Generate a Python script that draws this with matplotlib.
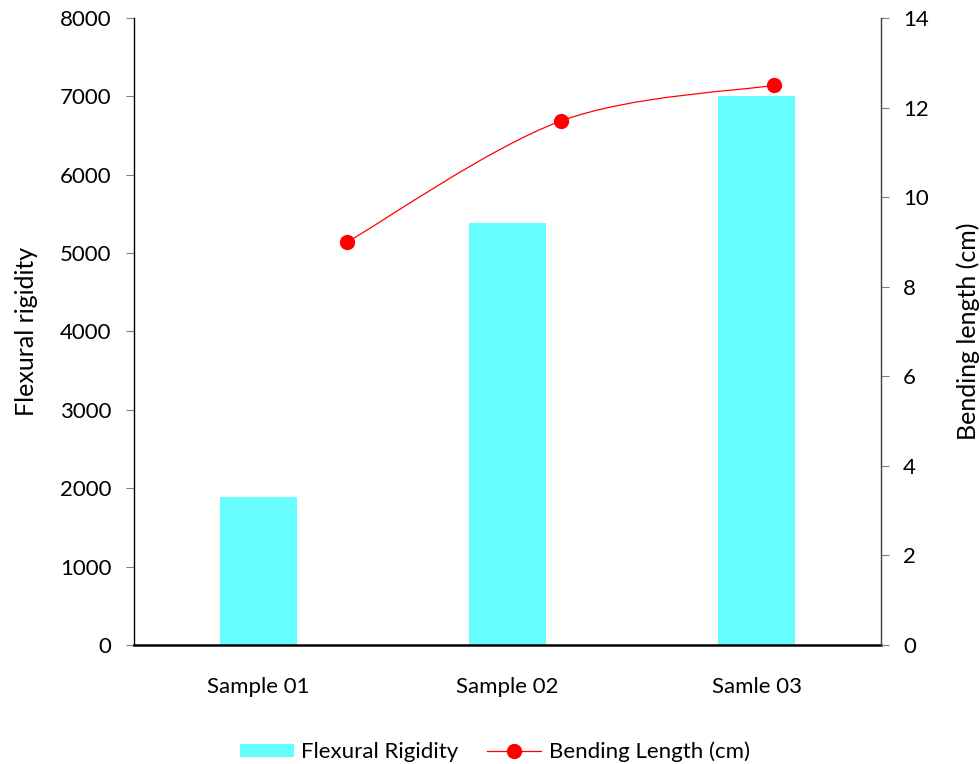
import matplotlib.pyplot as plt
from matplotlib.path import Path
from matplotlib.patches import PathPatch
from matplotlib.lines import Line2D
from matplotlib.patches import Patch

plt.rcParams['font.family'] = ['Lato', 'DejaVu Sans']

samples = ["Sample 01", "Sample 02", "Samle 03"]
rigidity = [1890, 5380, 7000]
bend_x = [1, 2, 3]
bend_len = [9.0, 11.7, 12.5]

bar_color = "#66FFFF"
line_color = "#FF0000"
fs = 16
lfs = 18

fig = plt.figure(figsize=(9.8, 7.64), dpi=100)
pos = [0.1367, 0.1558, 0.899 - 0.1367, 0.9764 - 0.1558]
ax = fig.add_axes(pos)

x = range(len(samples))
ax.bar(x, rigidity, width=0.313, color=bar_color, zorder=2)
ax.set_xlim(-0.5, len(samples) - 0.5)
ax.set_ylim(0, 8000)
ax.set_yticks(range(0, 8001, 1000))
ax.set_xticks(list(x))
ax.set_xticklabels(samples, fontsize=fs)
ax.tick_params(axis="x", length=0, pad=23)
ax.tick_params(axis="y", labelsize=fs, length=6, color="#808080", pad=10)
ax.set_ylabel("Flexural rigidity", fontsize=lfs, labelpad=16)
for s in ["top", "right"]:
    ax.spines[s].set_visible(False)
ax.spines["bottom"].set_linewidth(1.8)
ax.spines["left"].set_linewidth(1.0)

# secondary axes with its own category scale (Excel style)
ax2 = fig.add_axes(pos)
ax2.patch.set_visible(False)
ax2.set_xlim(0, 3.5)
ax2.set_ylim(0, 14)
ax2.set_yticks(range(0, 15, 2))
ax2.xaxis.set_visible(False)
ax2.yaxis.tick_right()
ax2.yaxis.set_label_position("right")
ax2.tick_params(axis="y", labelsize=fs, length=6, color="#808080", pad=10)
ax2.set_ylabel("Bending length (cm)", fontsize=lfs, labelpad=20)
for s in ["top", "left", "bottom"]:
    ax2.spines[s].set_visible(False)
ax2.spines["right"].set_linewidth(1.0)
ax2.spines["right"].set_color("#404040")

# smoothed line (Catmull-Rom style Bezier like Excel)
pts = list(zip(bend_x, bend_len))
ext = [pts[0]] + pts + [pts[-1]]
verts = [pts[0]]
codes = [Path.MOVETO]
for i in range(1, len(ext) - 2):
    p0, p1, p2, p3 = ext[i - 1], ext[i], ext[i + 1], ext[i + 2]
    c1 = (p1[0] + (p2[0] - p0[0]) / 6, p1[1] + (p2[1] - p0[1]) / 6)
    c2 = (p2[0] - (p3[0] - p1[0]) / 6, p2[1] - (p3[1] - p1[1]) / 6)
    verts += [c1, c2, p2]
    codes += [Path.CURVE4] * 3
ax2.add_patch(PathPatch(Path(verts, codes), fill=False, edgecolor=line_color, lw=0.9, zorder=3))
ax2.plot(bend_x, bend_len, linestyle="none", marker="o", markersize=10,
         color=line_color, zorder=4)

handles = [Patch(facecolor=bar_color, edgecolor="none"),
           Line2D([], [], color=line_color, lw=0.9, marker="o", markersize=10)]
fig.legend(handles, ["Flexural Rigidity", "Bending Length (cm)"], loc="lower center",
           bbox_to_anchor=(0.505, -0.024), ncol=2, frameon=False, fontsize=fs,
           handlelength=2.4, handleheight=0.55, columnspacing=1.3, handletextpad=0.35)

fig.savefig("out.png", dpi=100)
